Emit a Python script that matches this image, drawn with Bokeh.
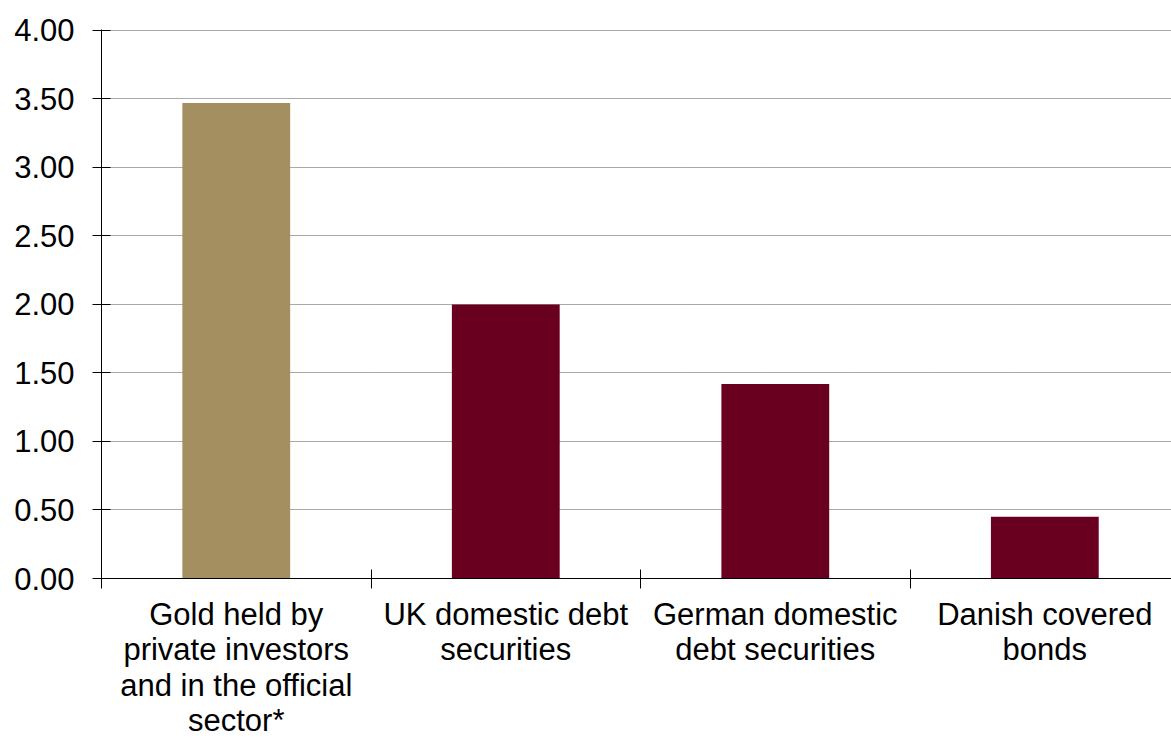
from bokeh.plotting import figure
from bokeh.layouts import column
from bokeh.models import ColumnDataSource, Range1d, FixedTicker, NumeralTickFormatter
from bokeh.core.properties import value
from bokeh.embed import file_html
from bokeh.resources import INLINE

# ---- data ----
categories = [
    "Gold held by\nprivate investors\nand in the official\nsector*",
    "UK domestic debt\nsecurities",
    "German domestic\ndebt securities",
    "Danish covered\nbonds",
]
values = [3.47, 2.00, 1.42, 0.45]
y_ticks = [0.0, 0.5, 1.0, 1.5, 2.0, 2.5, 3.0, 3.5, 4.0]

# ---- style ----
GOLD = "#A48F60"
MAROON = "#6A001F"
FONT = "Liberation Sans"
bar_colors = [GOLD] + [MAROON] * (len(categories) - 1)

n = len(categories)
centers = [i + 0.5 for i in range(n)]
bounds = list(range(n))

W = 1171
MAIN_H = 598
LAB_H = 738 - MAIN_H
FIRST_BASE = 16      # px from top of label strip to first text line anchor
LINE_H = 35.3        # px between text lines

x_range = Range1d(0, 3.97)
src = ColumnDataSource(dict(x=centers, top=values, color=bar_colors))

p = figure(
    width=W, height=MAIN_H,
    x_range=x_range, y_range=Range1d(0, 4.006),
    output_backend="svg", toolbar_location=None,
    min_border_left=101, min_border_right=0,
    min_border_top=29, min_border_bottom=20,
)
p.outline_line_color = None
p.background_fill_color = "white"
p.border_fill_color = "white"

p.vbar(x="x", top="top", width=0.4, bottom=0, fill_color="color",
       line_color=None, source=src)

# grid
p.xgrid.visible = False
p.ygrid.ticker = FixedTicker(ticks=y_ticks[1:])
p.ygrid.grid_line_color = "#555555"
p.ygrid.grid_line_dash = "1 1"
p.ygrid.grid_line_width = 1

# y axis
ya = p.yaxis[0]
ya.ticker = FixedTicker(ticks=y_ticks)
ya.formatter = NumeralTickFormatter(format="0.00")
ya.major_tick_in = 9
ya.major_tick_out = 9
ya.minor_tick_line_color = None
ya.axis_line_color = "black"
ya.major_tick_line_color = "black"
ya.major_label_text_font = FONT
ya.major_label_text_font_size = "31px"
ya.major_label_text_color = "black"
ya.major_label_standoff = 18

# x axis (boundary ticks only)
xa = p.xaxis[0]
xa.ticker = FixedTicker(ticks=bounds)
xa.major_label_overrides = {b: "" for b in bounds}
xa.major_label_text_font_size = "1px"
xa.major_label_standoff = 0
xa.major_tick_in = 9
xa.major_tick_out = 10
xa.minor_tick_line_color = None
xa.axis_line_color = "black"
xa.major_tick_line_color = "black"

# ---- category label strip ----
lx, ly, lt = [], [], []
for cx, cat in zip(centers, categories):
    for k, line in enumerate(cat.split("\n")):
        lx.append(cx)
        ly.append(k)
        lt.append(line)
lab_src = ColumnDataSource(dict(x=lx, y=ly, text=lt))

y0 = -FIRST_BASE / LINE_H
y1 = (LAB_H - FIRST_BASE) / LINE_H
p2 = figure(
    width=W, height=LAB_H,
    x_range=x_range, y_range=Range1d(y1, y0),
    x_axis_type=None, y_axis_type=None,
    output_backend="svg", toolbar_location=None,
    min_border_left=101, min_border_right=0,
    min_border_top=0, min_border_bottom=0,
)
p2.outline_line_color = None
p2.xgrid.visible = False
p2.ygrid.visible = False
p2.text(x="x", y="y", text="text", source=lab_src,
        text_align="center", text_baseline="alphabetic",
        text_font=value(FONT), text_font_size=value("31px"),
        text_color="black")

layout = column(p, p2, spacing=0)
open("out.html", "w").write(file_html(layout, INLINE))
